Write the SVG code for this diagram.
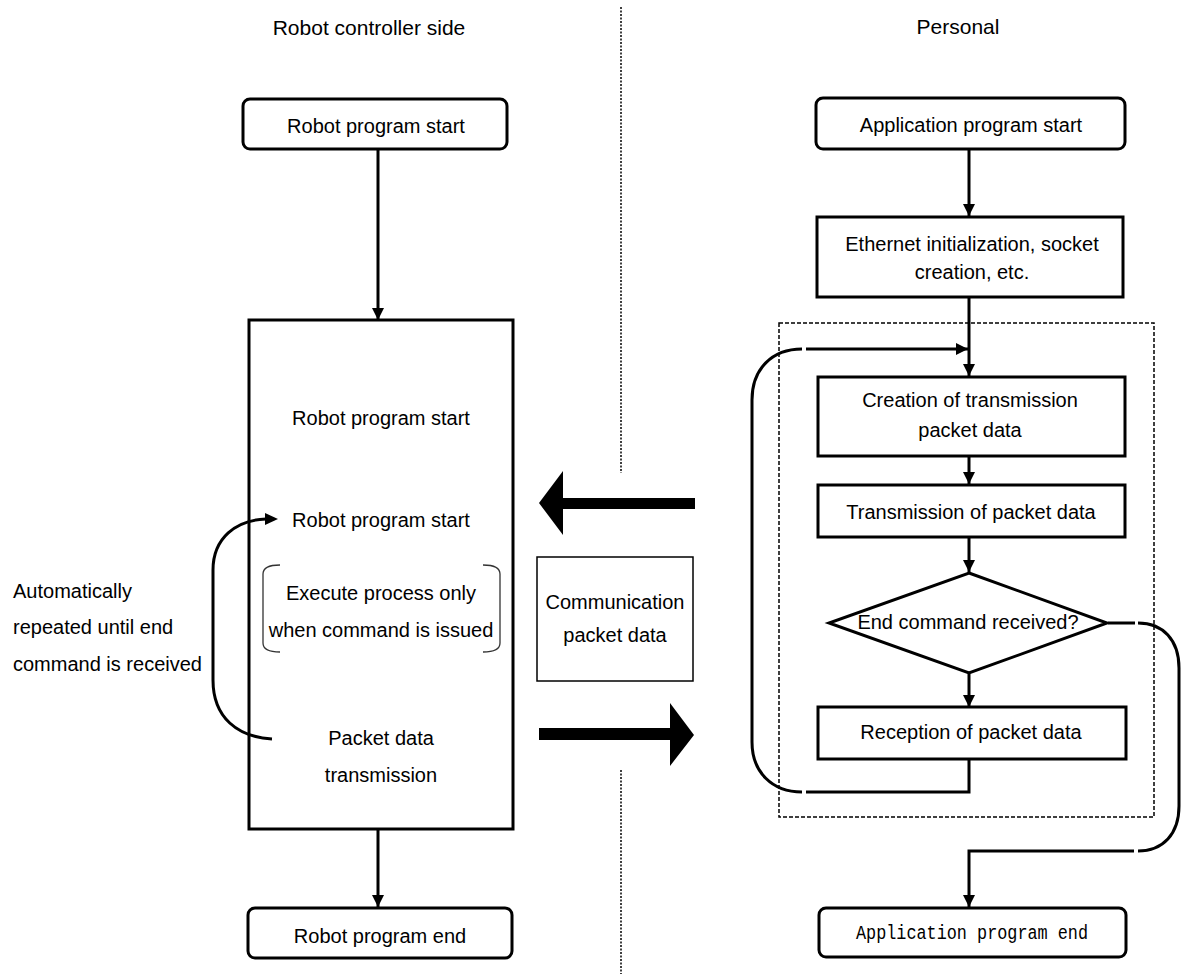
<svg xmlns="http://www.w3.org/2000/svg" width="1181" height="974" viewBox="0 0 1181 974">
<style>
text{font-family:"Liberation Sans",Arial,sans-serif;font-size:20px;fill:#000}
.c{text-anchor:middle}
.t{font-size:21px}
.mono{font-family:"Liberation Mono","DejaVu Sans Mono",monospace}
.box{fill:#fff;stroke:#000;stroke-width:3}
.thin{fill:#fff;stroke:#000;stroke-width:1.5}
.ln{fill:none;stroke:#000;stroke-width:3}
.br{fill:none;stroke:#333;stroke-width:1.3}
.dot{fill:none;stroke:#000;stroke-width:1.5;stroke-dasharray:2 1.5}
.dash{fill:none;stroke:#000;stroke-width:1.5;stroke-dasharray:4 2}
</style>
<defs>
<marker id="ah" viewBox="0 0 12 12" refX="12" refY="6" markerWidth="12" markerHeight="12" markerUnits="userSpaceOnUse" orient="auto">
<path d="M0,0 L12,6 L0,12 z" fill="#000"/>
</marker>
</defs>
<rect width="1181" height="974" fill="#fff"/>

<g id="titles">
<text class="c t" x="369" y="35">Robot controller side</text>
<text class="c t" x="958" y="34">Personal</text>
</g>

<g id="dividers">
<line class="dot" x1="621" y1="7" x2="621" y2="473"/>
<line class="dot" x1="621" y1="770" x2="621" y2="974"/>
<rect id="loop-area" class="dash" x="779" y="323" width="375" height="494"/>
</g>

<g id="big-arrows">
<polygon points="539,503 563,471 563,498 695,498 695,509 563,509 563,535" fill="#000"/>
<polygon points="539,728 670,728 670,703 694,735 670,766 670,740 539,740" fill="#000"/>
</g>

<g id="robot-start">
<rect class="box" x="243" y="99" width="264" height="50" rx="7"/>
<text class="c" x="376" y="133">Robot program start</text>
</g>

<g id="robot-program">
<rect class="box" x="249" y="320" width="264" height="509"/>
<text class="c" x="381" y="425">Robot program start</text>
<text class="c" x="381" y="527">Robot program start</text>
<path class="br" d="M280,565 C270,565 263,567 263,574 L263,643 C263,650 270,652 280,652"/>
<path class="br" d="M483,565 C493,565 500,567 500,574 L500,643 C500,650 493,652 483,652"/>
<text class="c" x="381" y="600">Execute process only</text>
<text class="c" x="381" y="637">when command is issued</text>
<text class="c" x="381" y="745">Packet data</text>
<text class="c" x="381" y="782">transmission</text>
</g>

<g id="loop-label">
<text x="13" y="598">Automatically</text>
<text x="13" y="634">repeated until end</text>
<text x="13" y="671">command is received</text>
</g>

<g id="robot-end">
<rect class="box" x="248" y="908" width="264" height="50" rx="7"/>
<text class="c" x="380" y="943">Robot program end</text>
</g>

<g id="comm-data">
<rect class="thin" x="537" y="557" width="156" height="124"/>
<text class="c" x="615" y="609">Communication</text>
<text class="c" x="615" y="642">packet data</text>
</g>

<g id="app-start">
<rect class="box" x="816" y="98" width="309" height="51" rx="7"/>
<text class="c" x="971" y="132">Application program start</text>
</g>

<g id="ethernet-init">
<rect class="box" x="817" y="217" width="306" height="80"/>
<text class="c" x="972" y="251">Ethernet initialization, socket</text>
<text class="c" x="972" y="279">creation, etc.</text>
</g>

<g id="create-packet">
<rect class="box" x="818" y="377" width="307" height="79"/>
<text class="c" x="970" y="407">Creation of transmission</text>
<text class="c" x="970" y="437">packet data</text>
</g>

<g id="transmit-packet">
<rect class="box" x="818" y="485" width="307" height="52"/>
<text class="c" x="971" y="519">Transmission of packet data</text>
</g>

<g id="end-decision">
<polygon class="box" points="969,573 1107,623 969,673 829,623"/>
<text class="c" x="968" y="629">End command received?</text>
</g>

<g id="receive-packet">
<rect class="box" x="818" y="707" width="308" height="52"/>
<text class="c" x="971" y="739">Reception of packet data</text>
</g>

<g id="app-end">
<rect class="box" x="819" y="908" width="307" height="49" rx="7"/>
<text class="c mono" x="972" y="939" textLength="232" lengthAdjust="spacingAndGlyphs">Application program end</text>
</g>

<g id="connectors">
<line class="ln" x1="378" y1="150" x2="378" y2="320" marker-end="url(#ah)"/>
<line class="ln" x1="378" y1="830" x2="378" y2="907" marker-end="url(#ah)"/>
<path class="ln" d="M272,739 C238,737 213,718 213,680 L213,570 C213,538 236,520 266,519"/>
<path d="M265,513 L278,519 L265,525 z" fill="#000"/>
<line class="ln" x1="969" y1="150" x2="969" y2="216" marker-end="url(#ah)"/>
<line class="ln" x1="969" y1="298" x2="969" y2="376" marker-end="url(#ah)"/>
<line class="ln" x1="969" y1="457" x2="969" y2="484" marker-end="url(#ah)"/>
<line class="ln" x1="969" y1="538" x2="969" y2="572" marker-end="url(#ah)"/>
<line class="ln" x1="969" y1="674" x2="969" y2="707" marker-end="url(#ah)"/>
<path class="ln" d="M969,760 L969,792 L806,792"/>
<path class="ln" d="M802,792 C772,792 752,772 752,742 L752,400 C752,369 772,349 802,349"/>
<line class="ln" x1="806" y1="349" x2="968" y2="349" marker-end="url(#ah)"/>
<path class="ln" d="M1108,623 L1135,623"/>
<path class="ln" d="M1138,623 C1163,623 1179,640 1179,668 L1179,806 C1179,834 1163,851 1138,851"/>
<path class="ln" d="M1134,851 L969,851 L969,907" marker-end="url(#ah)"/>
</g>
</svg>
